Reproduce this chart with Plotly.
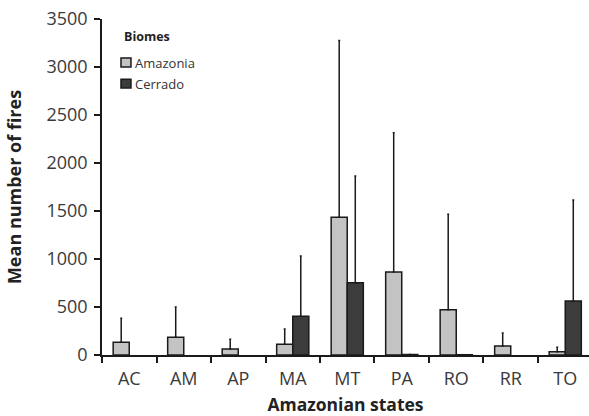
import plotly.graph_objects as go

# Mean annual fire counts per Amazonian state, split by biome
states = ["AC", "AM", "AP", "MA", "MT", "PA", "RO", "RR", "TO"]
amazonia_mean = [132, 184, 62, 111, 1435, 865, 472, 94, 35]
amazonia_sd = [250, 316, 101, 160, 1840, 1451, 994, 135, 45]
# no Cerrado area in AC, AM, AP and RR
cerrado_mean = [None, None, None, 403, 753, 5, 3, None, 563]
cerrado_sd = [0, 0, 0, 628, 1112, 0, 0, 0, 1052]

biomes = ["Amazonia", "Cerrado"]
biome_colors = ["#c3c3c3", "#3c3c3c"]

font_family = "Open Sans, DejaVu Sans, sans-serif"
edge = "#1a1a1a"
outline = dict(color=edge, width=1.5)

fig = go.Figure()
for name, color, mean, sd in zip(biomes, biome_colors,
                                 [amazonia_mean, cerrado_mean],
                                 [amazonia_sd, cerrado_sd]):
    fig.add_trace(go.Bar(
        x=states, y=mean, name=name,
        marker=dict(color=color, line=outline),
        error_y=dict(type="data", array=sd, arrayminus=[0] * len(states),
                     symmetric=False, color=edge, thickness=1.5, width=1),
    ))

# Hand-built legend: small outlined squares right next to the labels
fig.add_annotation(text="<b>Biomes</b>", xref="paper", yref="paper",
                   x=0.041, y=0.949, xanchor="left", yanchor="middle",
                   showarrow=False, font=dict(size=12.5, color="#222222"))
legend_rows = [(0.857, 0.884), (0.795, 0.821)]
for name, color, (y0, y1) in zip(biomes, biome_colors, legend_rows):
    fig.add_shape(type="rect", xref="paper", yref="paper",
                  x0=0.039, x1=0.0595, y0=y0, y1=y1,
                  fillcolor=color, line=dict(color=edge, width=1.5))
    fig.add_annotation(text=name, xref="paper", yref="paper",
                       x=0.064, y=(y0 + y1) / 2, xanchor="left",
                       yanchor="middle", showarrow=False,
                       font=dict(size=13, color="#333333"))

fig.update_layout(
    width=589, height=416,
    margin=dict(l=102, r=0, t=19, b=61),
    paper_bgcolor="white", plot_bgcolor="white",
    barmode="group", bargap=0.41, bargroupgap=0,
    font=dict(family=font_family, size=15, color="#333333"),
    showlegend=False,
    xaxis=dict(
        range=[-0.5, 8.436], showline=True, linecolor=edge, linewidth=1.5,
        ticks="outside", tickson="boundaries", ticklen=6, tickwidth=1.5,
        tickcolor=edge, showgrid=False, ticklabelstandoff=7,
        tickfont=dict(size=18, color="#3a3a3a"),
        title=dict(text="<b>Amazonian states</b>", standoff=10,
                   font=dict(size=17.5, color="#222222")),
    ),
    yaxis=dict(
        range=[0, 3500], dtick=500, showline=True, linecolor=edge,
        linewidth=1.5, ticks="outside", ticklen=6, tickwidth=1.5,
        tickcolor=edge, showgrid=False, zeroline=False, ticklabelstandoff=3,
        tickfont=dict(size=18, color="#3a3a3a"),
        title=dict(text="<b>Mean number of fires</b>", standoff=20,
                   font=dict(size=18, color="#222222")),
    ),
)

fig.write_html("out.html")
